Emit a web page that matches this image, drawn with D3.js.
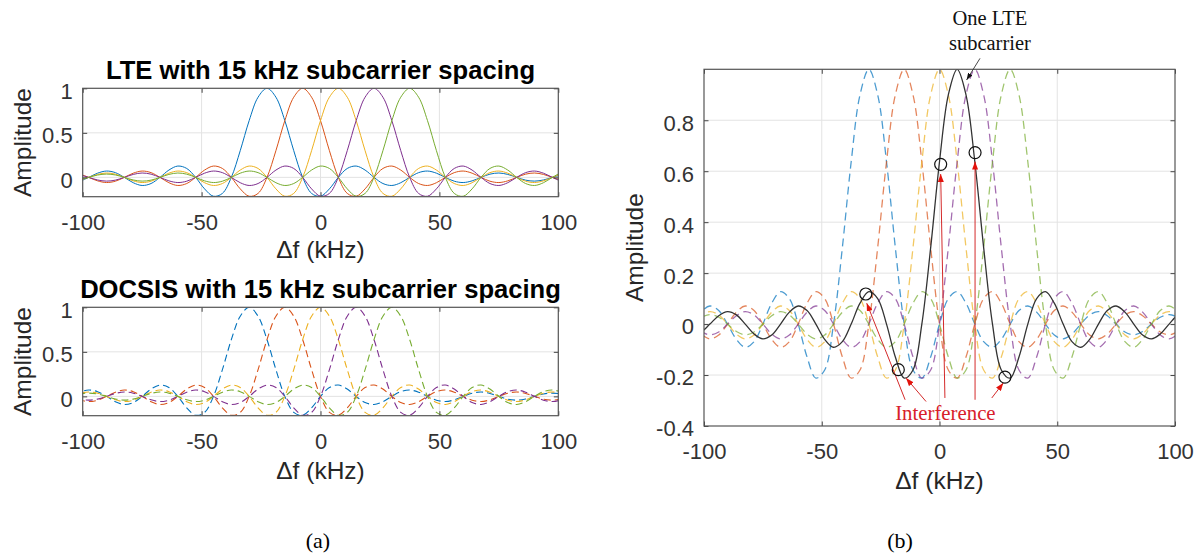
<!DOCTYPE html>
<html>
<head>
<meta charset="utf-8">
<script src="https://cdn.jsdelivr.net/npm/d3@7"></script>
<style>
  body { margin: 0; background: #fff; }
  svg text { font-family: "Liberation Sans", Arial, Helvetica, sans-serif; fill: #262626; }
  .tick text { font-size: 22px; fill: #333; }
  .axis-label { font-size: 24.5px; }
  .title { font-size: 25.6px; font-weight: bold; fill: #000; }
  .serif { font-family: "Liberation Serif", "Times New Roman", serif; }
</style>
</head>
<body>
<svg id="fig" width="1200" height="557"></svg>
<script>
// ---- data ----
const freqTicks = [-100, -50, 0, 50, 100];
const freqGrid = [-50, 0, 50];
const ampTicksA = [0, 0.5, 1];
const ampTicksB = [-0.4, -0.2, 0, 0.2, 0.4, 0.6, 0.8];
const ampGridB = [-0.2, 0, 0.2, 0.4, 0.6, 0.8];

const spacingKHz = 15;
const lteCenters = [-22.5, -7.5, 7.5, 22.5, 37.5];
const docsisCenters = [-30, -15, 0, 15, 30];
const oneLteCenter = [7.5];

// amplitude of one subcarrier, sampled every quarter spacing away from its centre
const pulseShape = [
  1, 0.900, 0.637, 0.300, 0, -0.180, -0.212, -0.129,
  0, 0.100, 0.127, 0.082, 0, -0.069, -0.091, -0.060,
  0, 0.053, 0.071, 0.047, 0, -0.043, -0.058, -0.039,
  0, 0.036, 0.049, 0.033, 0, -0.031, -0.042, -0.029,
  0, 0.027, 0.037, 0.026, 0, -0.024, -0.034, -0.023, 0
];

const seriesColors = ["#0072BD", "#D95319", "#EDB120", "#7E2F8E", "#77AC30"];

// (b) annotations, in data units [kHz, amplitude]
const interferencePts = [[-31.3, 0.118], [-17.5, -0.179], [0.5, 0.627], [15.1, 0.673], [27.8, -0.208]];
const interferenceArrows = [
  [[-14.6, -0.297], [-30.9, 0.082]],
  [[-5.7, -0.304], [-14.2, -0.212]],
  [[2.3, -0.290], [0.5, 0.589]],
  [[15.1, -0.297], [15.1, 0.638]],
  [[22.2, -0.290], [27.1, -0.231]]
];
const lteArrow = [[17.2, 1.043], [11.5, 0.958]];

const svg = d3.select("#fig");
const defs = svg.append("defs");

defs.append("marker").attr("id", "redHead")
  .attr("viewBox", "0 0 8 6").attr("refX", 8).attr("refY", 3)
  .attr("markerWidth", 8).attr("markerHeight", 6)
  .attr("markerUnits", "userSpaceOnUse").attr("orient", "auto")
  .append("path").attr("d", "M0,0L8,3L0,6Z").attr("fill", "#e3120b");

defs.append("marker").attr("id", "blackHead")
  .attr("viewBox", "0 0 7 5").attr("refX", 7).attr("refY", 2.5)
  .attr("markerWidth", 7).attr("markerHeight", 5)
  .attr("markerUnits", "userSpaceOnUse").attr("orient", "auto")
  .append("path").attr("d", "M0,0L7,2.5L0,5Z").attr("fill", "#111");

function carrierPoints(c) {
  const pulseStep = spacingKHz / 4;
  const n = pulseShape.length - 1;
  return d3.range(-n, n + 1).map(k => [c + k * pulseStep, pulseShape[Math.abs(k)]]);
}

let clipId = 0;
function panel(cfg) {
  const x = d3.scaleLinear().domain([-100, 100]).range([cfg.left, cfg.right]);
  const y = d3.scaleLinear().domain(cfg.yDomain).range([cfg.bottom, cfg.top]);
  const g = svg.append("g");

  // grid
  g.selectAll("line.gx").data(freqGrid).join("line")
    .attr("x1", d => x(d)).attr("x2", d => x(d))
    .attr("y1", cfg.top).attr("y2", cfg.bottom)
    .attr("stroke", "#e3e3e3").attr("stroke-width", 1);
  g.selectAll("line.gy").data(cfg.yGrid).join("line")
    .attr("y1", d => y(d)).attr("y2", d => y(d))
    .attr("x1", cfg.left).attr("x2", cfg.right)
    .attr("stroke", "#e3e3e3").attr("stroke-width", 1);

  // curves
  const id = "clip" + (clipId++);
  defs.append("clipPath").attr("id", id).append("rect")
    .attr("x", cfg.left).attr("y", cfg.top)
    .attr("width", cfg.right - cfg.left).attr("height", cfg.bottom - cfg.top);
  const plot = g.append("g").attr("clip-path", "url(#" + id + ")");
  const line = d3.line().x(d => x(d[0])).y(d => y(d[1])).curve(d3.curveCatmullRom.alpha(0.5));

  cfg.layers.forEach(layer => {
    plot.append("g").selectAll("path").data(layer.centers).join("path")
      .attr("d", c => line(carrierPoints(c)))
      .attr("fill", "none")
      .attr("stroke", (c, i) => layer.color || seriesColors[i])
      .attr("stroke-opacity", layer.opacity || 1)
      .attr("stroke-width", layer.width || 1)
      .attr("stroke-dasharray", layer.dash || null);
  });

  // axes with inward ticks
  const tl = 4.5;
  const bottomAxis = g.append("g").attr("transform", "translate(0," + cfg.bottom + ")")
    .call(d3.axisBottom(x).tickValues(freqTicks).tickSize(-tl).tickPadding(17.8));
  const leftAxis = g.append("g").attr("transform", "translate(" + cfg.left + ",0)")
    .call(d3.axisLeft(y).tickValues(cfg.yTicks).tickSize(-tl).tickPadding(10));
  leftAxis.selectAll("text").attr("dy", "0.45em");
  g.append("g").attr("transform", "translate(0," + cfg.top + ")")
    .call(d3.axisTop(x).tickValues(freqTicks).tickSize(-tl).tickFormat(""));
  g.append("g").attr("transform", "translate(" + cfg.right + ",0)")
    .call(d3.axisRight(y).tickValues(cfg.yTicks).tickSize(-tl).tickFormat(""));
  g.selectAll(".domain").remove();
  g.selectAll(".tick line").attr("stroke", "#444");
  bottomAxis.selectAll("text").text(d => String(d));
  leftAxis.selectAll("text").text(d => String(+d.toFixed(2)));

  g.append("rect")
    .attr("x", cfg.left).attr("y", cfg.top)
    .attr("width", cfg.right - cfg.left).attr("height", cfg.bottom - cfg.top)
    .attr("fill", "none").attr("stroke", "#555").attr("stroke-width", 1.2);

  // labels
  const cx = (cfg.left + cfg.right) / 2;
  if (cfg.title) {
    g.append("text").attr("class", "title")
      .attr("x", cx).attr("y", cfg.top - 9)
      .attr("text-anchor", "middle").text(cfg.title);
  }
  g.append("text").attr("class", "axis-label")
    .attr("x", cx).attr("y", cfg.bottom + cfg.xLabelGap)
    .attr("text-anchor", "middle").text("\u0394f (kHz)");
  g.append("text").attr("class", "axis-label")
    .attr("transform", "translate(" + cfg.yLabelX + "," + ((cfg.top + cfg.bottom) / 2) + ") rotate(-90)")
    .attr("text-anchor", "middle").text("Amplitude");

  return { x, y, g };
}

// (a) top: LTE
panel({
  left: 82.7, right: 558.3, top: 88.3, bottom: 196.7,
  yDomain: [-0.217, 1], yTicks: ampTicksA, yGrid: [0, 0.5],
  yLabelX: 31, xLabelGap: 61,
  title: "LTE with 15 kHz subcarrier spacing",
  layers: [{ centers: lteCenters, width: 1 }]
});

// (a) bottom: DOCSIS
panel({
  left: 82.7, right: 558.3, top: 307.3, bottom: 415.7,
  yDomain: [-0.217, 1], yTicks: ampTicksA, yGrid: [0, 0.5],
  yLabelX: 31, xLabelGap: 63,
  title: "DOCSIS with 15 kHz subcarrier spacing",
  layers: [{ centers: docsisCenters, width: 1.1, dash: "7,4" }]
});

// (b)
const pb = panel({
  left: 704, right: 1175, top: 69.3, bottom: 426,
  yDomain: [-0.4, 1], yTicks: ampTicksB, yGrid: ampGridB,
  yLabelX: 643, xLabelGap: 63,
  layers: [
    { centers: docsisCenters, width: 1.3, dash: "8,5", opacity: 0.7 },
    { centers: oneLteCenter, width: 1.3, color: "#333" }
  ]
});

const ann = pb.g.append("g");
ann.selectAll("line.ia").data(interferenceArrows).join("line")
  .attr("x1", d => pb.x(d[0][0])).attr("y1", d => pb.y(d[0][1]))
  .attr("x2", d => pb.x(d[1][0])).attr("y2", d => pb.y(d[1][1]))
  .attr("stroke", "#d42a2a").attr("stroke-width", 1)
  .attr("marker-end", "url(#redHead)");

ann.selectAll("circle").data(interferencePts).join("circle")
  .attr("cx", d => pb.x(d[0])).attr("cy", d => pb.y(d[1]))
  .attr("r", 6).attr("fill", "none").attr("stroke", "#111").attr("stroke-width", 1.2);

ann.append("line")
  .attr("x1", pb.x(lteArrow[0][0])).attr("y1", pb.y(lteArrow[0][1]))
  .attr("x2", pb.x(lteArrow[1][0])).attr("y2", pb.y(lteArrow[1][1]))
  .attr("stroke", "#333").attr("stroke-width", 0.9)
  .attr("marker-end", "url(#blackHead)");

ann.append("text").attr("class", "serif")
  .attr("x", pb.x(2.5)).attr("y", pb.y(-0.375))
  .attr("text-anchor", "middle").attr("font-size", 20.8)
  .style("fill", "#d8202a").text("Interference");

ann.append("text").attr("class", "serif")
  .attr("x", pb.x(21.4)).attr("y", pb.y(1.174))
  .attr("text-anchor", "middle").attr("font-size", 20.5)
  .style("fill", "#111").text("One LTE");
ann.append("text").attr("class", "serif")
  .attr("x", pb.x(21.4)).attr("y", pb.y(1.076))
  .attr("text-anchor", "middle").attr("font-size", 20.5)
  .style("fill", "#111").text("subcarrier");

// captions
svg.append("text").attr("class", "serif")
  .attr("x", 318).attr("y", 548).attr("text-anchor", "middle")
  .attr("font-size", 22).style("fill", "#000").text("(a)");
svg.append("text").attr("class", "serif")
  .attr("x", 900).attr("y", 548).attr("text-anchor", "middle")
  .attr("font-size", 22).style("fill", "#000").text("(b)");
</script>
</body>
</html>
